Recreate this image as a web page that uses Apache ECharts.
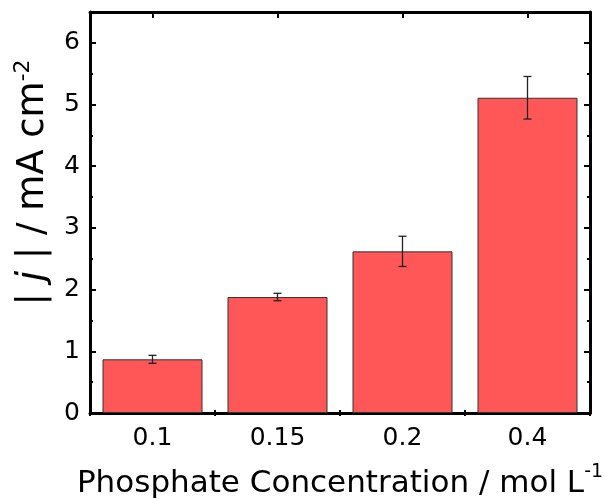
<!DOCTYPE html>
<html>
<head>
<meta charset="utf-8">
<script src="https://cdn.jsdelivr.net/npm/echarts@6/dist/echarts.min.js"></script>
<style>
  html, body { margin: 0; padding: 0; background: #fff; }
  #chart { width: 605px; height: 499px; }
</style>
</head>
<body>
<div id="chart"></div>
<script>
// Phosphate concentrations (mol L^-1) and measured current density |j| (mA cm^-2)
const categories = ['0.1', '0.15', '0.2', '0.4'];
const currentDensity = [0.87, 1.88, 2.62, 5.11];
const errorSize = [0.065, 0.06, 0.245, 0.345];
const yTicks = [0, 1, 2, 3, 4, 5, 6];

const FONT = '"DejaVu Sans", sans-serif';
const AXIS_COLOR = '#000';

const chart = echarts.init(document.getElementById('chart'), null, { renderer: 'canvas' });

const errorData = currentDensity.map((v, i) => [i, v - errorSize[i], v + errorSize[i]]);

function majorTick() {
  return { show: true, inside: true, length: 6, lineStyle: { color: AXIS_COLOR, width: 2 } };
}

const frameLine = { show: true, onZero: false, lineStyle: { color: AXIS_COLOR, width: 3 } };

const option = {
  animation: false,
  grid: { left: 90, right: 15, top: 12, bottom: 86, containLabel: false, outerBoundsMode: 'none' },
  xAxis: [
    {
      type: 'category', data: categories, position: 'bottom',
      axisLine: frameLine,
      axisTick: Object.assign(majorTick(), { alignWithLabel: true }),
      axisLabel: { color: '#000', fontSize: 25, fontFamily: FONT, margin: 13 },
      name: '{t|Phosphate Concentration / mol L}{s|-1}',
      nameLocation: 'middle', nameGap: 50,
      nameTextStyle: {
        rich: {
          t: { fontSize: 31, fontFamily: FONT, color: '#000', lineHeight: 36, verticalAlign: 'bottom' },
          s: { fontSize: 19, fontFamily: FONT, color: '#000', lineHeight: 36, verticalAlign: 'top', padding: [0, 0, 15, 0] }
        }
      }
    },
    {
      // minor ticks on category boundaries (bottom)
      type: 'category', data: categories, position: 'bottom',
      axisLine: { show: false },
      axisTick: { show: true, inside: true, length: 3, lineStyle: { color: AXIS_COLOR, width: 2 } },
      axisLabel: { show: false }
    },
    {
      type: 'category', data: categories, position: 'top',
      axisLine: frameLine,
      axisTick: Object.assign(majorTick(), { alignWithLabel: true }),
      axisLabel: { show: false }
    },
    {
      // minor ticks on category boundaries (top)
      type: 'category', data: categories, position: 'top',
      axisLine: { show: false },
      axisTick: { show: true, inside: true, length: 3, lineStyle: { color: AXIS_COLOR, width: 2 } },
      axisLabel: { show: false }
    }
  ],
  yAxis: [
    {
      type: 'value', min: 0, max: 6.5, interval: 1, position: 'left',
      axisLine: frameLine,
      axisTick: majorTick(),
      minorTick: { show: true, splitNumber: 2, length: 3, lineStyle: { color: AXIS_COLOR, width: 2 } },
      splitLine: { show: false },
      axisLabel: {
        color: '#000', fontSize: 25, fontFamily: FONT, margin: 10,
        formatter: v => (yTicks.indexOf(v) >= 0 ? String(v) : '')
      },
      name: '{t|| }{i|j}{t| | / mA cm}{s|-2}',
      nameLocation: 'middle', nameGap: 38, nameRotate: 90,
      nameTextStyle: {
        padding: [0, 0, 0, 60],
        rich: {
          t: { fontSize: 37, fontFamily: FONT, color: '#000', lineHeight: 40, verticalAlign: 'bottom' },
          i: { fontSize: 37, fontFamily: FONT, fontStyle: 'italic', color: '#000', lineHeight: 40, verticalAlign: 'bottom' },
          s: { fontSize: 22, fontFamily: FONT, color: '#000', lineHeight: 40, verticalAlign: 'top', padding: [0, 0, 17, 0] }
        }
      }
    },
    {
      type: 'value', min: 0, max: 6.5, interval: 1, position: 'right',
      axisLine: frameLine,
      axisTick: majorTick(),
      minorTick: { show: true, splitNumber: 2, length: 3, lineStyle: { color: AXIS_COLOR, width: 2 } },
      splitLine: { show: false },
      axisLabel: { show: false }
    }
  ],
  series: [
    {
      type: 'bar', xAxisIndex: 0, yAxisIndex: 0,
      data: currentDensity,
      barWidth: '80%',
      itemStyle: { color: '#FF5757', borderColor: '#333', borderWidth: 1 }
    },
    {
      // error bars
      type: 'custom', xAxisIndex: 0, yAxisIndex: 0, z: 5,
      data: errorData,
      renderItem: function (params, api) {
        const x = api.value(0);
        const lo = api.coord([x, api.value(1)]);
        const hi = api.coord([x, api.value(2)]);
        const cap = 4;
        const style = { stroke: '#222', lineWidth: 1.3 };
        return {
          type: 'group',
          children: [
            { type: 'line', shape: { x1: lo[0], y1: lo[1], x2: hi[0], y2: hi[1] }, style },
            { type: 'line', shape: { x1: hi[0] - cap, y1: hi[1], x2: hi[0] + cap, y2: hi[1] }, style },
            { type: 'line', shape: { x1: lo[0] - cap, y1: lo[1], x2: lo[0] + cap, y2: lo[1] }, style }
          ]
        };
      }
    }
  ]
};

chart.setOption(option);
</script>
</body>
</html>
